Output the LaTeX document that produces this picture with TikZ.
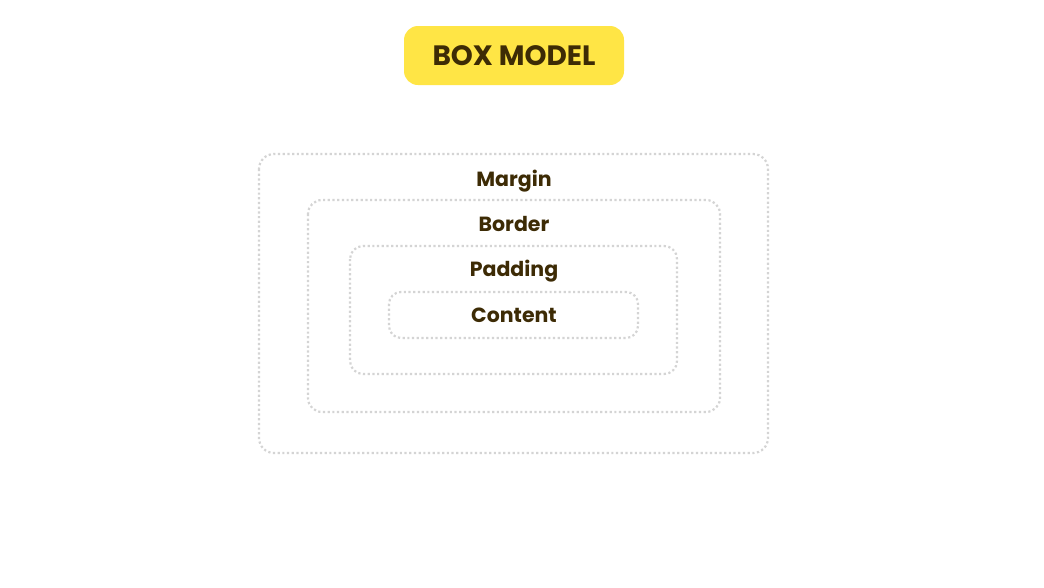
\documentclass[tikz,border=0pt]{standalone}
\usepackage{fontspec}
\setmainfont{Poppins}[BoldFont={* Bold}]
\definecolor{ttl}{HTML}{FFE545}
\definecolor{txt}{HTML}{3D2B05}
\definecolor{dotc}{HTML}{D4D4D4}
\begin{document}
\begin{tikzpicture}[x=1pt,y=-1pt,
  layer/.style={draw=dotc, line width=2.2pt, dash pattern=on 2.2pt off 2.5pt, rounded corners=#1},
  lbl/.style={text=txt, font=\bfseries\fontsize{20.5}{24}\selectfont, inner sep=0pt, anchor=base},
  titlebox/.style={fill=ttl, rounded corners=14pt, minimum width=220pt, minimum height=59pt, inner sep=0pt},
  ttltext/.style={text=txt, font=\bfseries\fontsize{28}{32}\selectfont, inner sep=0pt, anchor=base}]
\useasboundingbox (0,0) rectangle (1044,587);
\fill[white] (0,0) rectangle (1044,587);
\node[titlebox] (title) at (514,55.5) {};
\node[ttltext] (titletext) at (514,65.5) {BOX MODEL};
\draw[layer=15pt] (259,154) rectangle (768,453);
\draw[layer=14pt] (308,200) rectangle (720,412);
\draw[layer=13pt] (350,246) rectangle (677,374);
\draw[layer=12pt] (389,292) rectangle (638,338);
\node[lbl] (margin) at (514,186.5) {Margin};
\node[lbl] (border) at (514,231.5) {Border};
\node[lbl] (padding) at (514,276.5) {Padding};
\node[lbl] (content) at (514,322.5) {Content};
\end{tikzpicture}
\end{document}
